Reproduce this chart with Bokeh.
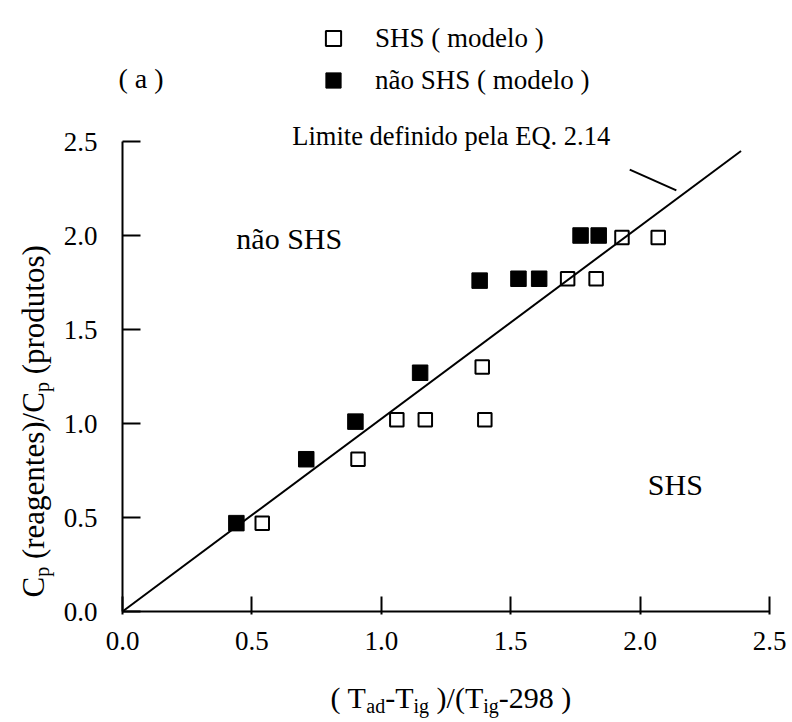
import math

from bokeh.embed import file_html
from bokeh.models import (FixedTicker, Label, Legend, LegendItem, LinearAxis,
                          PrintfTickFormatter, Range1d)
from bokeh.plotting import figure
from bokeh.resources import INLINE

# Model predictions: open squares propagate as SHS, filled squares do not
shs_x = [0.54, 0.91, 1.06, 1.17, 1.40, 1.39, 1.72, 1.83, 1.93, 2.07]
shs_y = [0.47, 0.81, 1.02, 1.02, 1.02, 1.30, 1.77, 1.77, 1.99, 1.99]
nao_x = [0.44, 0.71, 0.90, 1.15, 1.38, 1.53, 1.61, 1.77, 1.84]
nao_y = [0.47, 0.81, 1.01, 1.27, 1.76, 1.77, 1.77, 2.00, 2.00]

# Limit from EQ. 2.14 (straight line through the origin)
limit_x = [0.0, 2.39]
limit_slope = 1.025
limit_y = [limit_slope * v for v in limit_x]

tick_values = [0.0, 0.5, 1.0, 1.5, 2.0, 2.5]
axis_min, axis_max = 0.0, 2.5

SERIF = "Liberation Serif"
W, H = 792, 722

# pixel box of the 0..2.5 axes inside the canvas; the frame spans the whole
# canvas so that titles and legends outside the axes are not clipped
AX_LEFT, AX_RIGHT, AX_TOP, AX_BOTTOM = 122, 769, 141, 611
sx_per_unit = (AX_RIGHT - AX_LEFT) / (axis_max - axis_min)
sy_per_unit = (AX_BOTTOM - AX_TOP) / (axis_max - axis_min)
x_range = Range1d(axis_min - AX_LEFT / sx_per_unit, axis_min + (W - AX_LEFT) / sx_per_unit)
y_range = Range1d(axis_min - (H - AX_BOTTOM) / sy_per_unit, axis_min + AX_BOTTOM / sy_per_unit)

p = figure(width=W, height=H, x_range=x_range, y_range=y_range,
           output_backend="svg", toolbar_location=None,
           x_axis_location=None, y_axis_location=None,
           min_border=0)
p.outline_line_color = None
p.grid.visible = False
p.background_fill_color = "white"
p.border_fill_color = "white"

xaxis = LinearAxis(fixed_location=axis_min)
yaxis = LinearAxis(fixed_location=axis_min)
for ax in (xaxis, yaxis):
    ax.bounds = (axis_min, axis_max)
    ax.ticker = FixedTicker(ticks=tick_values)
    ax.formatter = PrintfTickFormatter(format="%.1f")
    ax.minor_tick_line_color = None
    ax.axis_line_color = "black"
    ax.axis_line_width = 2
    ax.major_tick_line_color = "black"
    ax.major_tick_line_width = 2
    ax.major_label_text_font = SERIF
    ax.major_label_text_font_size = "27px"
    ax.major_label_text_color = "black"

xaxis.major_tick_in = 15
xaxis.major_tick_out = 3
xaxis.major_label_standoff = 17
yaxis.major_tick_in = 18
yaxis.major_tick_out = 0
yaxis.major_label_standoff = 25
p.add_layout(xaxis, "below")
p.add_layout(yaxis, "left")

# boundary line and the leader to its caption
p.line(limit_x, limit_y, line_color="black", line_width=2)
p.line([1.96, 2.14], [2.35, 2.24], line_color="black", line_width=2)

r_nao = p.scatter(nao_x, nao_y, marker="square", size=15.5,
                  fill_color="black", line_color="black", line_width=1)
r_shs = p.scatter(shs_x, shs_y, marker="square", size=13.5,
                  fill_color=None, line_color="black", line_width=2)


def add_text(text, x, y, size, **kw):
    p.add_layout(Label(x=x, y=y, text=text, text_font=SERIF,
                       text_font_size=f"{size}px", text_color="black", **kw))


add_text("não SHS", 0.44, 1.894, 30)
add_text("SHS", 2.03, 0.587, 30)
add_text("Limite definido pela EQ. 2.14", 0.656, 2.452, 26.5)

# Times-metric advance widths (per 1000 em) for the axis titles
ADV = {" ": 250, "(": 333, ")": 333, "/": 278, "-": 333, "C": 667, "T": 611,
       "a": 444, "d": 500, "e": 444, "g": 500, "i": 278, "n": 500, "o": 500,
       "p": 500, "r": 333, "s": 389, "t": 278, "u": 500, "2": 500, "8": 500,
       "9": 500}


def advance(s, size):
    return sum(ADV[c] for c in s) * size / 1000.0


def add_rich_title(runs, x0, y0, vertical):
    """runs: (text, font size, baseline drop); x0, y0 in canvas pixels."""
    pos = 0.0
    for text, size, drop in runs:
        # leading blanks would be collapsed in SVG, so shift past them instead
        body = text.lstrip(" ")
        start = pos + advance(text[:len(text) - len(body)], size)
        if vertical:
            cx, cy, ang = x0 + drop, y0 - start, math.pi / 2
        else:
            cx, cy, ang = x0 + start, y0 + drop, 0.0
        p.add_layout(Label(x=cx, y=H - cy, x_units="screen", y_units="screen",
                           text=body, angle=ang, text_font=SERIF,
                           text_font_size=f"{size}px", text_color="black",
                           text_align="left", text_baseline="alphabetic"))
        pos += advance(text, size)


MAIN, SUB, DROP = 30, 20, 8
x_title = [("( T", MAIN, 0), ("ad", SUB, DROP), ("-T", MAIN, 0), ("ig", SUB, DROP),
           (" )/(T", MAIN, 0), ("ig", SUB, DROP), ("-298 )", MAIN, 0)]
add_rich_title(x_title, 330, 697, vertical=False)

YMAIN = 31
y_title = [("C", YMAIN, 0), ("p", SUB, DROP), (" (reagentes)/C", YMAIN, 0),
           ("p", SUB, DROP), (" (produtos)", YMAIN, 0)]
add_rich_title(y_title, 33, 597, vertical=True)

p.add_layout(Label(x=118, y=H - 93, x_units="screen", y_units="screen",
                   text="( a )", text_font=SERIF, text_font_size="28px",
                   text_color="black"))

# two one-row legends stacked above the axes
legend_rows = [("SHS ( modelo )", r_shs, 38), ("não SHS ( modelo )", r_nao, 80)]
GLYPH = 38
for label, rend, cy in legend_rows:
    lg = Legend(items=[LegendItem(label=label, renderers=[rend])],
                location=(333 - GLYPH // 2, H - (cy + GLYPH / 2)),
                glyph_width=GLYPH, glyph_height=GLYPH, label_height=GLYPH,
                label_standoff=23, padding=0, margin=0, spacing=0,
                label_text_font=SERIF, label_text_font_size="27px",
                label_text_color="black", border_line_color=None,
                background_fill_alpha=0)
    p.add_layout(lg)

open("out.html", "w").write(file_html(p, INLINE))
